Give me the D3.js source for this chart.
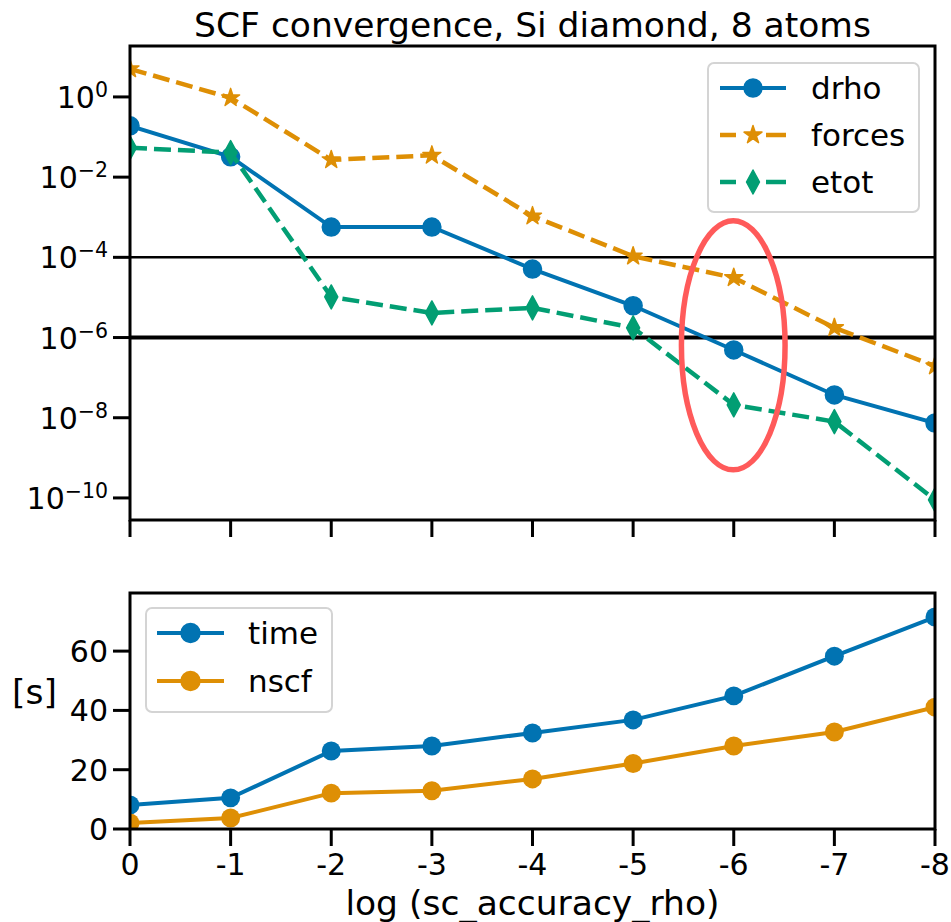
<!DOCTYPE html>
<html>
<head>
<meta charset="utf-8">
<script src="https://cdn.jsdelivr.net/npm/d3@7"></script>
<style>
  html, body { margin: 0; padding: 0; background: #fff; }
  text { font-family: "DejaVu Sans", sans-serif; fill: #000; }
</style>
</head>
<body>
<svg id="chart" width="951" height="922"></svg>
<script>
// log10 of the SCF target accuracy on the density
const accuracy = [0, -1, -2, -3, -4, -5, -6, -7, -8];
const xTickLabels = ["0", "-1", "-2", "-3", "-4", "-5", "-6", "-7", "-8"];

// final errors after convergence (log scale panel)
const drho   = [1.9e-1, 3.2e-2, 5.7e-4, 5.7e-4, 5.1e-5, 6.2e-6, 4.9e-7, 3.7e-8, 7.4e-9];
const forces = [5.0, 9.5e-1, 2.7e-2, 3.5e-2, 1.07e-3, 1.07e-4, 3.1e-5, 1.75e-6, 1.95e-7];
const etot   = [5.4e-2, 4.1e-2, 1.03e-5, 4.1e-6, 5.5e-6, 1.75e-6, 2.1e-8, 8.0e-9, 9.0e-11];

// thresholds marked with horizontal lines
const thresholds = [1e-4, 1e-6];
const yTickExps = [0, -2, -4, -6, -8, -10];

// highlighted region around log accuracy -6 (x range, log10 y range)
const highlightX = [-5.48, -6.51];
const highlightLogY = [-3.09, -9.30];

// runtime panel
const time = [8.1, 10.5, 26.3, 28.0, 32.4, 36.8, 44.9, 58.3, 71.5];
const nscf = [2.0, 3.7, 12.1, 12.9, 16.9, 22.1, 28.0, 32.7, 41.1];
const yTicksBottom = [0, 20, 40, 60];

const C = { blue: "#0173b2", orange: "#de8f05", green: "#029e73", red: "#ff5a5a" };

const svg = d3.select("#chart");
const left = 130, right = 935;
const top1 = 46, bottom1 = 520;
const top2 = 593, bottom2 = 829;

const x = d3.scaleLinear().domain([0, -8]).range([left, right]);
const y1 = d3.scaleLog().domain([Math.pow(10, -10.55), Math.pow(10, 1.27)]).range([bottom1, top1]);
const y2 = d3.scaleLinear().domain([0, 79.6]).range([bottom2, top2]);

const tickFs = 30, legendFs = 31, labelFs = 34.5;
const lw = 4, dashLw = 4.5;
const dash = "17,7";

// ---------- top panel ----------
const g1 = svg.append("g");
g1.append("defs").append("clipPath").attr("id", "clip1")
  .append("rect").attr("x", left).attr("y", top1).attr("width", right - left).attr("height", bottom1 - top1);

const plot1 = g1.append("g").attr("clip-path", "url(#clip1)");

plot1.selectAll("line.thr").data(thresholds).join("line")
  .attr("class", "thr")
  .attr("x1", left).attr("x2", right)
  .attr("y1", d => y1(d)).attr("y2", d => y1(d))
  .attr("stroke", "#000")
  .attr("stroke-width", (d, i) => i === 0 ? 2.5 : 4);

const line1 = d3.line().x((d, i) => x(accuracy[i])).y(d => y1(d));

const starPath = d3.symbol().type(d3.symbolStar).size(100)();
const circlePath = d3.symbol().type(d3.symbolCircle).size(Math.PI * 81)();
const diamondPath = "M0,-12L6.5,0L0,12L-6.5,0Z";

const seriesTop = [
  { name: "drho", values: drho, color: C.blue, dash: null, width: lw, marker: circlePath },
  { name: "forces", values: forces, color: C.orange, dash: dash, width: dashLw, marker: starPath },
  { name: "etot", values: etot, color: C.green, dash: dash, width: dashLw, marker: diamondPath }
];

seriesTop.forEach(s => {
  plot1.append("path")
    .attr("d", line1(s.values))
    .attr("fill", "none")
    .attr("stroke", s.color)
    .attr("stroke-width", s.width)
    .attr("stroke-dasharray", s.dash);
  plot1.selectAll(null).data(s.values).join("path")
    .attr("d", s.marker)
    .attr("transform", (d, i) => `translate(${x(accuracy[i])},${y1(d)})`)
    .attr("fill", s.color)
    .attr("stroke", s.color).attr("stroke-width", 1.5).attr("stroke-linejoin", "round");
});

// highlight ellipse
const ex = (x(highlightX[0]) + x(highlightX[1])) / 2;
const erx = Math.abs(x(highlightX[1]) - x(highlightX[0])) / 2;
const eyTop = y1(Math.pow(10, highlightLogY[0]));
const eyBot = y1(Math.pow(10, highlightLogY[1]));
plot1.append("ellipse")
  .attr("cx", ex).attr("cy", (eyTop + eyBot) / 2)
  .attr("rx", erx).attr("ry", (eyBot - eyTop) / 2)
  .attr("fill", "none").attr("stroke", C.red).attr("stroke-width", 5.5);

// frame
g1.append("rect").attr("x", left).attr("y", top1).attr("width", right - left).attr("height", bottom1 - top1)
  .attr("fill", "none").attr("stroke", "#000").attr("stroke-width", 3);

// x ticks (no labels on the upper panel)
g1.selectAll("line.xt").data(accuracy).join("line")
  .attr("x1", d => x(d)).attr("x2", d => x(d))
  .attr("y1", bottom1).attr("y2", bottom1 + 17)
  .attr("stroke", "#000").attr("stroke-width", 3);

// y ticks with power-of-ten labels
g1.selectAll("line.yt").data(yTickExps).join("line")
  .attr("x1", left - 17).attr("x2", left)
  .attr("y1", d => y1(Math.pow(10, d))).attr("y2", d => y1(Math.pow(10, d)))
  .attr("stroke", "#000").attr("stroke-width", 3);

yTickExps.forEach(e => {
  const yy = y1(Math.pow(10, e));
  const t = g1.append("text")
    .attr("x", 108).attr("y", yy + 11)
    .attr("text-anchor", "end")
    .attr("font-size", tickFs);
  t.append("tspan").text("10");
  t.append("tspan").attr("dy", -11).attr("font-size", 20.5)
    .text(e < 0 ? "\u2212" + Math.abs(e) : String(e));
});

// title
svg.append("text")
  .attr("x", (left + right) / 2).attr("y", 37)
  .attr("text-anchor", "middle").attr("font-size", labelFs)
  .text("SCF convergence, Si diamond, 8 atoms");

// legend helper
function legend(g, x0, y0, w, h, rows, rowY, lineX0, lineX1, textX) {
  g.append("rect").attr("x", x0).attr("y", y0).attr("width", w).attr("height", h)
    .attr("rx", 6).attr("ry", 6)
    .attr("fill", "#fff").attr("fill-opacity", 0.8)
    .attr("stroke", "#d4d4d4").attr("stroke-width", 2);
  rows.forEach((r, i) => {
    const yy = rowY[i];
    g.append("line").attr("x1", lineX0).attr("x2", lineX1).attr("y1", yy).attr("y2", yy)
      .attr("stroke", r.color).attr("stroke-width", r.width)
      .attr("stroke-dasharray", r.dash ? "16,30,20" : null);
    g.append("path").attr("d", r.marker)
      .attr("transform", `translate(${(lineX0 + lineX1) / 2},${yy})`)
      .attr("fill", r.color)
      .attr("stroke", r.color).attr("stroke-width", 1.5).attr("stroke-linejoin", "round");
    g.append("text").attr("x", textX).attr("y", yy + 11)
      .attr("font-size", legendFs).text(r.name);
  });
}

legend(g1, 708, 63, 211, 149, seriesTop, [88, 135, 182], 720, 786, 811);

// ---------- bottom panel ----------
const g2 = svg.append("g");
const line2 = d3.line().x((d, i) => x(accuracy[i])).y(d => y2(d));

g2.append("defs").append("clipPath").attr("id", "clip2")
  .append("rect").attr("x", left).attr("y", top2).attr("width", right - left).attr("height", bottom2 - top2);
const plot2 = g2.append("g").attr("clip-path", "url(#clip2)");

const bottomMarker = d3.symbol().type(d3.symbolCircle).size(Math.PI * 90)();
const seriesBottom = [
  { name: "time", values: time, color: C.blue, dash: null, width: lw, marker: bottomMarker },
  { name: "nscf", values: nscf, color: C.orange, dash: null, width: lw, marker: bottomMarker }
];

seriesBottom.forEach(s => {
  plot2.append("path")
    .attr("d", line2(s.values))
    .attr("fill", "none").attr("stroke", s.color).attr("stroke-width", s.width);
  plot2.selectAll(null).data(s.values).join("path")
    .attr("d", s.marker)
    .attr("transform", (d, i) => `translate(${x(accuracy[i])},${y2(d)})`)
    .attr("fill", s.color);
});

g2.append("rect").attr("x", left).attr("y", top2).attr("width", right - left).attr("height", bottom2 - top2)
  .attr("fill", "none").attr("stroke", "#000").attr("stroke-width", 3);

g2.selectAll("line.xt").data(accuracy).join("line")
  .attr("x1", d => x(d)).attr("x2", d => x(d))
  .attr("y1", bottom2).attr("y2", bottom2 + 17)
  .attr("stroke", "#000").attr("stroke-width", 3);

g2.selectAll("text.xl").data(accuracy).join("text")
  .attr("x", d => x(d)).attr("y", 875)
  .attr("text-anchor", "middle").attr("font-size", tickFs)
  .text((d, i) => xTickLabels[i]);

g2.selectAll("line.yt").data(yTicksBottom).join("line")
  .attr("x1", left - 17).attr("x2", left)
  .attr("y1", d => y2(d)).attr("y2", d => y2(d))
  .attr("stroke", "#000").attr("stroke-width", 3);

g2.selectAll("text.yl").data(yTicksBottom).join("text")
  .attr("x", 108).attr("y", d => y2(d) + 11)
  .attr("text-anchor", "end").attr("font-size", tickFs)
  .text(d => d);

svg.append("text").attr("x", 12).attr("y", 704).attr("font-size", labelFs).text("[s]");

svg.append("text")
  .attr("x", (left + right) / 2).attr("y", 915)
  .attr("text-anchor", "middle").attr("font-size", labelFs)
  .text("log (sc_accuracy_rho)");

legend(g2, 146, 608, 186, 104, seriesBottom, [633, 681], 157, 224, 248);
</script>
</body>
</html>
